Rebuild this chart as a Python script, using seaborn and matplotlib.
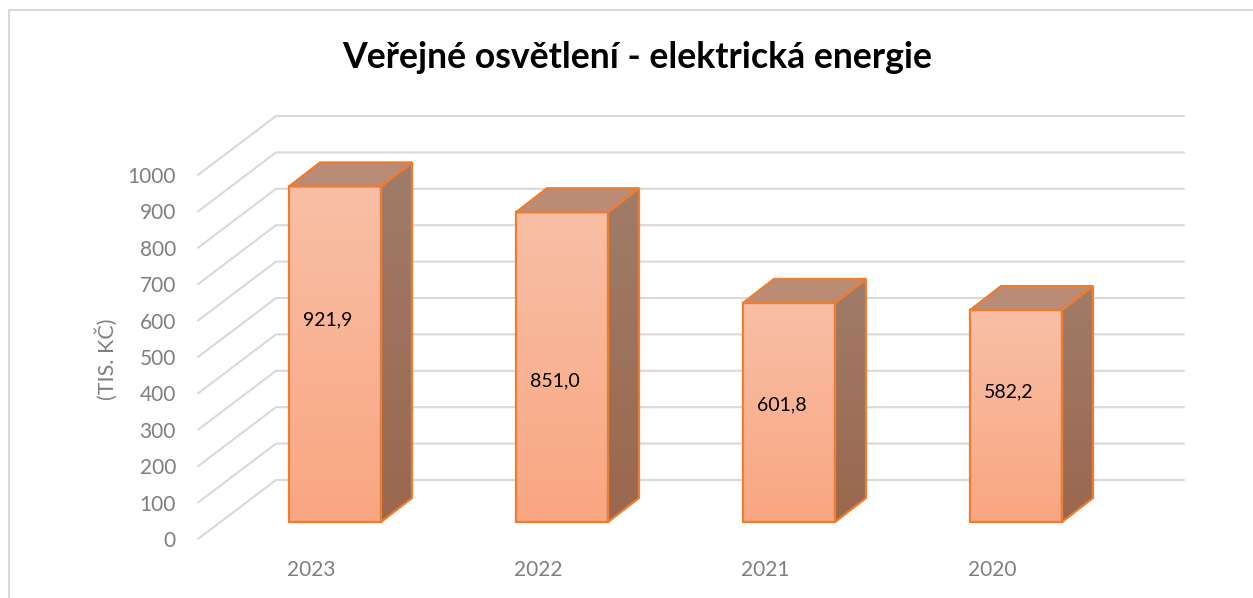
import numpy as np
import seaborn as sns
import matplotlib.pyplot as plt
from matplotlib.colors import LinearSegmentedColormap
from matplotlib.patches import Polygon

years = ['2023', '2022', '2021', '2020']
values = [921.9, 851.0, 601.8, 582.2]
value_labels = ['921,9', '851,0', '601,8', '582,2']
label_heights = [555, 387, 321, 357]
y_ticks = list(range(0, 1001, 100))

title = 'Veřejné osvětlení - elektrická energie'
y_title = '(TIS. KČ)'

# pixel layout of the picture, converted to data units
W, H = 1253, 598
PX_X = 227.0        # pixels between two categories
PX_Y = 0.364        # pixels per 1 unit of value
X0, Y0 = 335, 522   # first bar centre, bar base


def dx(px):
    return px / PX_X


def dy(px):
    return px / PX_Y


def gradient(ax, pts, top, bottom, zorder):
    # vertical gradient clipped to a polygon
    pts = np.array(pts)
    cmap = LinearSegmentedColormap.from_list('g', [top, bottom])
    img = ax.imshow(np.linspace(0, 1, 256).reshape(-1, 1), cmap=cmap, aspect='auto',
                    origin='upper', zorder=zorder,
                    extent=(pts[:, 0].min(), pts[:, 0].max(), pts[:, 1].min(), pts[:, 1].max()))
    clip = Polygon(pts, closed=True, transform=ax.transData, facecolor='none')
    ax.add_patch(clip)
    img.set_clip_path(clip)


sns.set_theme(style='white')
plt.rcParams['font.family'] = ['Lato', 'DejaVu Sans']

fig = plt.figure(figsize=(W / 100, H / 100), dpi=100)
ax = fig.add_axes([0, 0, 1, 1])

sns.barplot(x=years, y=values, order=years, width=92 / PX_X, color='white', ax=ax, zorder=5)

GRID = '#D9D9D9'
EDGE = '#ED7D31'
TEXT = '#7F7F7F'

# floor / wall grid lines
x_front = dx(198 - X0)
x_back = dx(276 - X0)
x_end = dx(1184 - X0)
for v in y_ticks:
    y_front = v - dy(17)
    y_back = v + dy(42)
    ax.plot([x_front, x_back, x_end], [y_front, y_back, y_back], color=GRID, lw=1.5, zorder=1)
    ax.text(dx(176 - X0), y_front - dy(2), str(v), ha='right', va='center', fontsize=15, color=TEXT)

# bars with depth
depth_x, depth_y = dx(31), dy(24)
for i, bar in enumerate(ax.patches):
    x1 = bar.get_x()
    x2 = x1 + bar.get_width()
    h = bar.get_height()
    bar.set_facecolor('none')
    bar.set_edgecolor(EDGE)
    bar.set_linewidth(1.6)
    bar.set_zorder(6)
    front = [(x1, 0), (x2, 0), (x2, h), (x1, h)]
    side = [(x2, 0), (x2 + depth_x, depth_y), (x2 + depth_x, h + depth_y), (x2, h)]
    top = [(x1, h), (x2, h), (x2 + depth_x, h + depth_y), (x1 + depth_x, h + depth_y)]
    gradient(ax, front, '#F8BFA6', '#FAA681', 3)
    gradient(ax, side, '#A07C69', '#9B674E', 3)
    ax.add_patch(Polygon(top, closed=True, facecolor='#BA8C76', edgecolor=EDGE, lw=1.6, zorder=4))
    ax.add_patch(Polygon(side, closed=True, facecolor='none', edgecolor=EDGE, lw=1.6, zorder=4))
    ax.text(i - dx(7), label_heights[i], value_labels[i], ha='center', va='center',
            fontsize=14, color='black', zorder=7)
    ax.text(i - dx(24), dy(522 - 570), years[i], ha='center', va='center', fontsize=15, color=TEXT)

ax.text(dx(107 - X0), dy(522 - 359), y_title, rotation=90, ha='center', va='center',
        fontsize=15.5, color=TEXT)
ax.text(dx(637 - X0), dy(522 - 57), title, ha='center', va='center', fontsize=25.7,
        fontweight='bold', color='black')

# chart frame
ax.plot([dx(9 - X0), dx(9 - X0), dx(W - X0)], [dy(Y0 - H), dy(Y0 - 10), dy(Y0 - 10)], color=GRID, lw=1.5)

ax.set_xlim(dx(-X0), dx(W - X0))
ax.set_ylim(dy(Y0 - H), dy(Y0))
ax.axis('off')

plt.savefig('out.png', dpi=100)
plt.close()
